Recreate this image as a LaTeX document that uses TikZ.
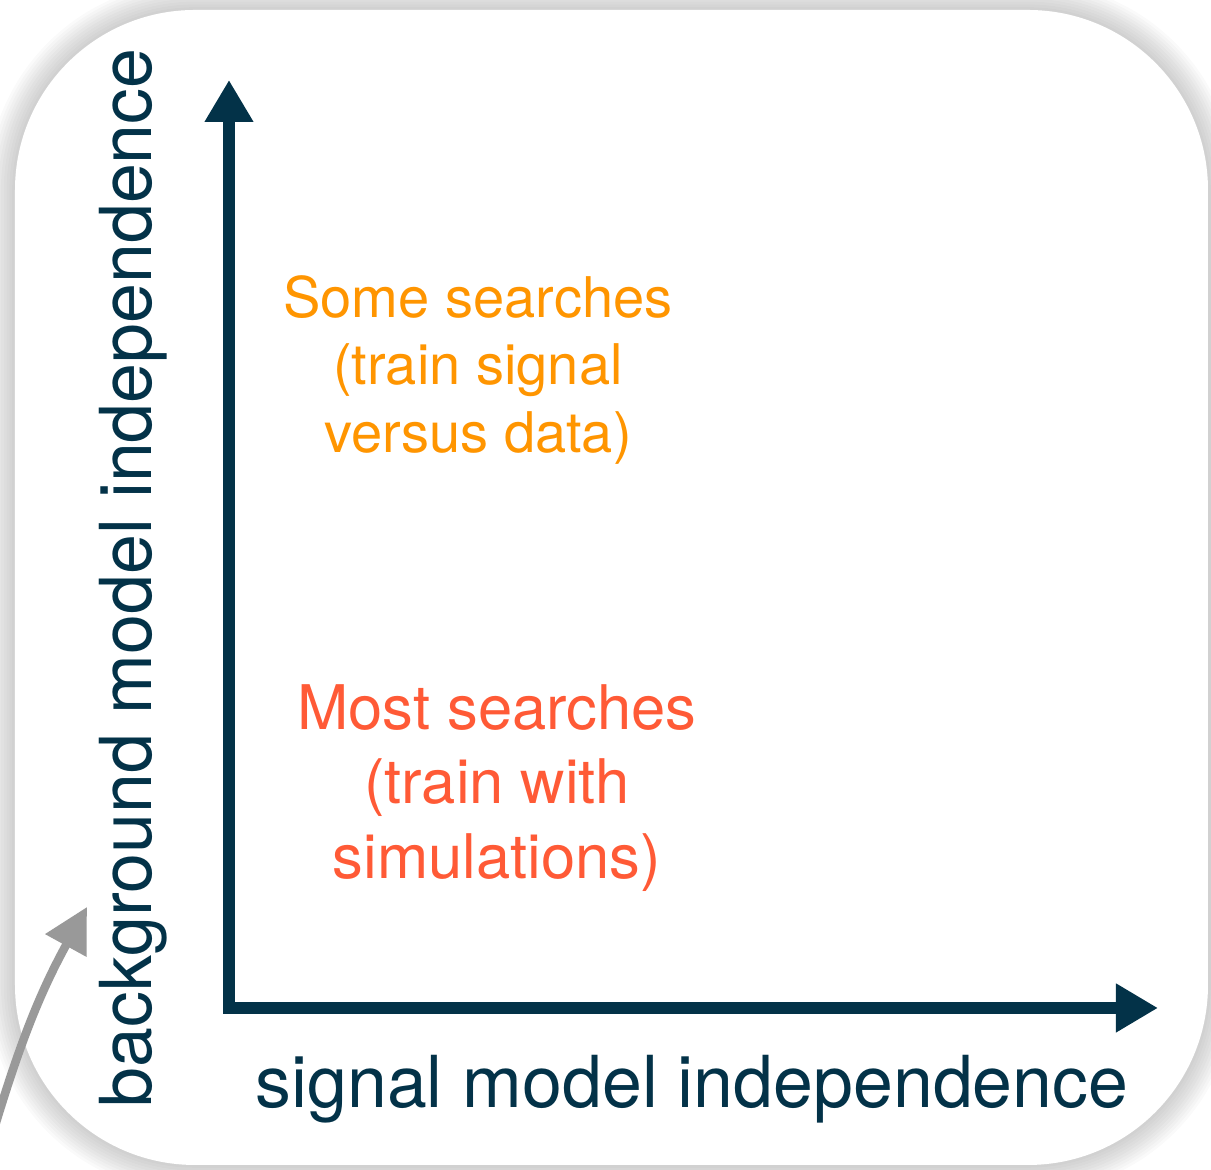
\documentclass[tikz,border=0pt]{standalone}
\usepackage{fontspec}
\setmainfont{TeX Gyre Heros}
\usetikzlibrary{arrows.meta,positioning}
\definecolor{navy}{RGB}{3,50,72}
\definecolor{keyorange}{RGB}{255,149,0}
\definecolor{keyred}{RGB}{255,90,54}
\definecolor{pointergrey}{RGB}{153,153,153}
\begin{document}
\begin{tikzpicture}[>={Triangle[length=4.2mm,width=4.6mm]},line join=miter,
    axis/.style={draw=navy,line width=1.2mm},
    axislabel/.style={text=navy,inner sep=0pt,font=\fontsize{20.4}{24}\selectfont},
    searchtext/.style={align=center,inner sep=0pt},
    pointer/.style={draw=pointergrey,line width=.85mm,>={Triangle[length=4.4mm,width=4.5mm]}}]
                \def\W{12.11}\def\H{11.70}\def\r{1.8cm}
                \useasboundingbox (0,0) rectangle (\W,\H);
                \clip (0,0) rectangle (\W,\H);
                % frame with soft shadow
                \foreach \w in {1,...,10}
                    \draw[black,opacity=.018,line width=\w*1.6pt,rounded corners=\r] (.15,.05) rectangle (12.08,11.60);
                \fill[white,rounded corners=\r] (.15,.05) rectangle (12.08,11.60);
                % axes
                \coordinate (O) at (2.29,1.62);
                \coordinate (ytip) at (2.29,10.90);
                \coordinate (xtip) at (11.58,1.62);
                \draw[axis,<->] (ytip) -- (O) -- (xtip);
                \node[axislabel,anchor=base] (xlabel) at (6.92,.62) {signal model independence};
                \node[axislabel,anchor=base,rotate=90] (ylabel) at (1.52,5.92) {background model independence};
                % search types
                \node[searchtext,text=keyorange,font=\fontsize{15.95}{19.1}\selectfont] (some) at (4.78,8.00) {Some searches\\(train signal\\versus data)};
                \node[searchtext,text=keyred,font=\fontsize{17.5}{21.1}\selectfont] (most) at (4.97,3.82) {Most searches\\(train with\\simulations)};
                % pointer from outside
                \coordinate (p0) at (-.05,.44);
                \coordinate (p1) at (.87,2.63);
                \draw[pointer,->] (p0) to[bend left=6] (p1);
            \end{tikzpicture}
\end{document}
